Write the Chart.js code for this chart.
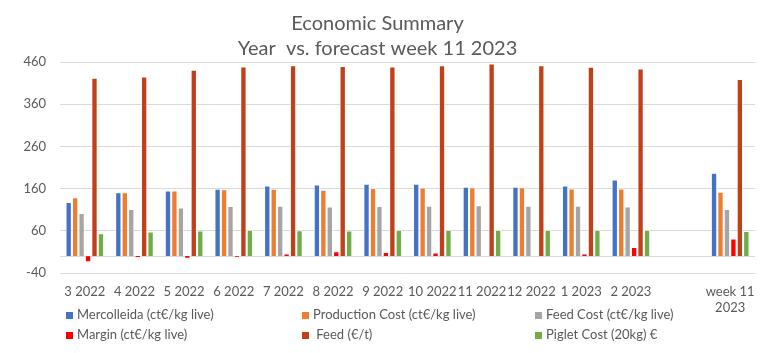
<!DOCTYPE html>
<html>
<head>
<meta charset="utf-8">
<script src="https://cdn.jsdelivr.net/npm/chart.js@4.4.1/dist/chart.umd.min.js"></script>
<style>
  body { margin: 0; background: #fff; }
  #wrap { position: relative; width: 768px; height: 353px; }
  #legend { position: absolute; left: 0; top: 0; width: 768px; height: 353px; pointer-events: none;
            font-family: Lato, "Open Sans", sans-serif; font-size: 13px; color: #595959; }
  .item { position: absolute; white-space: nowrap; line-height: 16px; }
  .box { display: inline-block; width: 7px; height: 7px; margin-right: 4px; vertical-align: 0px; }
</style>
</head>
<body>
<div id="wrap">
  <canvas id="myChart" width="768" height="353"></canvas>
  <div id="legend"></div>
</div>
<script>
  /////////////////////////////////////
 /*              DATA               */
/////////////////////////////////////

var months = [["3 2022"], ["4 2022"], ["5 2022"], ["6 2022"], ["7 2022"], ["8 2022"], ["9 2022"],
              ["10 2022"], ["11 2022"], ["12 2022"], ["1 2023"], ["2 2023"], [""], ["week 11", "2023"]];

var mercolleida    = [128, 151, 155, 159, 167, 169, 171, 171, 164, 164, 167, 181, null, 197];
var productionCost = [139, 151, 155, 158, 159, 157, 161, 162, 163, 163, 160, 160, null, 152];
var feedCost       = [102, 111, 115, 118, 119, 117, 118, 119, 120, 119, 119, 117, null, 111];
var margin         = [-14, -4, -6, -3, 6, 11, 9, 8, 0, 0, 6, 21, null, 41];
var feed           = [422, 425, 441, 449, 452, 450, 449, 452, 456, 452, 448, 444, null, 419];
var pigletCost     = [54, 58, 60, 62, 61, 60, 62, 62, 62, 62, 62, 62, null, 59];

var yTicks = [-40, 60, 160, 260, 360, 460];

var seriesNames = ["Mercolleida (ct€/kg live)", "Production Cost (ct€/kg live)", "Feed Cost (ct€/kg live)",
                   "Margin (ct€/kg live)", " Feed (€/t)", "Piglet Cost (20kg) €"];
var seriesColors = ["#4472C4", "#ED7D31", "#A5A5A5", "#FF0000", "#C0401A", "#70AD47"];
var seriesData = [mercolleida, productionCost, feedCost, margin, feed, pigletCost];

  /////////////////////////////////////
 /*            BUILD CHART          */
/////////////////////////////////////

var datasets = [];
for (var i = 0; i < seriesData.length; i++) {
  datasets.push({
    label: seriesNames[i],
    data: seriesData[i],
    backgroundColor: seriesColors[i],
    borderColor: "#ffffff",
    borderWidth: 0.8,
    categoryPercentage: 0.78,
    barPercentage: 0.92
  });
}

// line at zero where the category axis crosses
var zeroLine = {
  id: "zeroLine",
  beforeDatasetsDraw: function(chart) {
    var y = chart.scales.y.getPixelForValue(0);
    var ctx = chart.ctx;
    ctx.save();
    ctx.strokeStyle = "#D9D9D9";
    ctx.lineWidth = 1;
    ctx.beginPath();
    ctx.moveTo(chart.chartArea.left, Math.round(y) + 0.5);
    ctx.lineTo(chart.chartArea.right, Math.round(y) + 0.5);
    ctx.stroke();
    ctx.restore();
  }
};

var ctx = document.getElementById("myChart").getContext("2d");
var chart = new Chart(ctx, {
  type: "bar",
  data: { labels: months, datasets: datasets },
  plugins: [zeroLine],
  options: {
    responsive: false,
    animation: false,
    layout: { padding: { left: 0, right: 13, bottom: 0, top: 0 } },
    plugins: {
      legend: { display: false },
      tooltip: { enabled: false },
      title: {
        display: true,
        text: ["Economic Summary", "Year  vs. forecast week 11 2023"],
        color: "#595959",
        font: { family: "Lato", size: 20, weight: "normal", lineHeight: 1.25 },
        padding: { top: 11, bottom: 1 }
      }
    },
    scales: {
      x: {
        grid: { display: false },
        border: { display: false },
        ticks: { color: "#595959", font: { family: "Lato", size: 13 }, maxRotation: 0, autoSkip: false, padding: 3 },
        afterFit: function(scale) { scale.height = 80; }
      },
      y: {
        min: -40,
        max: 460,
        afterBuildTicks: function(scale) {
          scale.ticks = yTicks.map(function(v) { return { value: v }; });
        },
        grid: { color: "#D9D9D9", drawTicks: false },
        border: { display: false },
        ticks: { color: "#595959", font: { family: "Lato", size: 13 }, padding: 14 },
        afterFit: function(scale) { scale.width = 60; }
      }
    }
  }
});

  /////////////////////////////////////
 /*          HTML LEGEND            */
/////////////////////////////////////

var legendCols = [66, 302, 535];
var legendRows = [306, 326];
var legendHtml = "";
for (var k = 0; k < seriesNames.length; k++) {
  var col = legendCols[k % 3];
  var row = legendRows[Math.floor(k / 3)];
  legendHtml += "<div class='item' style='left:" + col + "px;top:" + row + "px'>" +
                "<span class='box' style='background:" + seriesColors[k] + "'></span>" +
                seriesNames[k] + "</div>";
}
document.getElementById("legend").innerHTML = legendHtml;
</script>
</body>
</html>
